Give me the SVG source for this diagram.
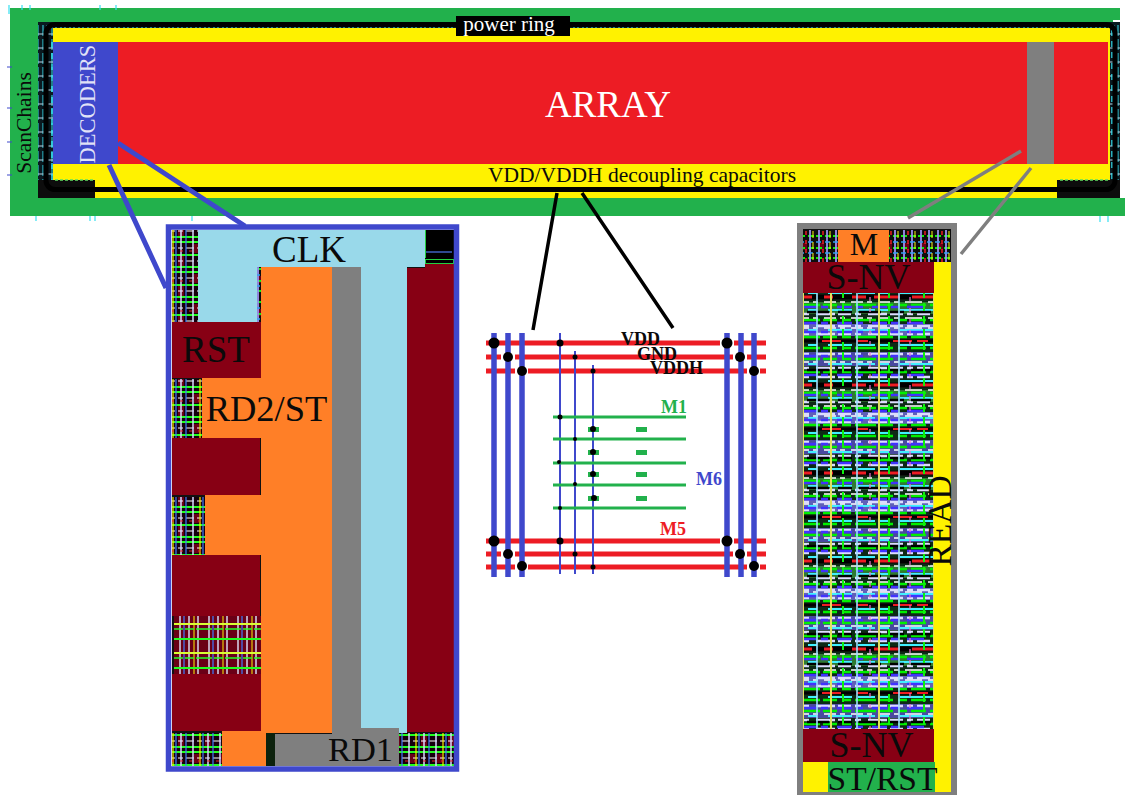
<svg xmlns="http://www.w3.org/2000/svg" width="1125" height="795" viewBox="0 0 1125 795">
<style>
text{font-family:"Liberation Serif","Times New Roman",serif;fill:#0a0a0a}
.w{fill:#fff}
.dr{fill:#870014}.or{fill:#ff7f27}.lb{fill:#99d9ea}.gy{fill:#7f7f7f}.ye{fill:#fff200}.gr{fill:#22b14c}.rd{fill:#ed1c24}
.red{stroke:#ed1c24;stroke-width:5;fill:none}
.bt{stroke:#3f48cc;stroke-width:5.500;fill:none}
.bn{stroke:#3f48cc;stroke-width:2;fill:none}
.gl{stroke:#22b14c;stroke-width:3;fill:none}
.lab{font-weight:bold;font-size:18px}
</style>
<defs>
<filter id="soft" x="0" y="0" width="1" height="1"><feGaussianBlur stdDeviation="0.6"/></filter>
<filter id="txt" x="-5%" y="-5%" width="110%" height="110%"><feGaussianBlur stdDeviation="0.35"/></filter>
<pattern id="cell" width="27" height="30" patternUnits="userSpaceOnUse">
<rect width="27" height="30" fill="#140008"/>
<rect x="5" y="4" width="5" height="9" fill="#6b0018"/><rect x="16" y="16" width="6" height="10" fill="#6b0018"/>
<path d="M0 2H27M0 15H27M0 27H27" stroke="#22ff22" stroke-width="2"/>
<path d="M0 8H27M0 21H27" stroke="#ffffff" stroke-width="1" stroke-dasharray="5 3"/>
<path d="M4 0V30M19 0V30" stroke="#d8d8ff" stroke-width="1.500"/>
<path d="M11 0V30" stroke="#fff200" stroke-width="1.200"/>
<path d="M14 0V30M24 0V30" stroke="#3f78ff" stroke-width="1.200"/>
<path d="M0 11H27" stroke="#ed1c24" stroke-width="1" stroke-dasharray="3 6"/>
</pattern>
<pattern id="cellDr" width="29" height="29" patternUnits="userSpaceOnUse">
<rect width="29" height="29" fill="#6b0018"/>
<path d="M6 0V29M15 0V29M24 0V29" stroke="#d8d8f0" stroke-width="1.500"/>
<path d="M10 0V29" stroke="#3f78ff" stroke-width="1.200"/>
<path d="M20 0V29" stroke="#fff200" stroke-width="1"/>
<path d="M0 1H29" stroke="#22ff22" stroke-width="2"/>
<path d="M0 15H29" stroke="#d8ff30" stroke-width="2"/>
<path d="M0 20H29" stroke="#22ff22" stroke-width="1.500" stroke-dasharray="9 2"/>
</pattern>
<pattern id="dense" width="131" height="88" patternUnits="userSpaceOnUse">
<rect width="131" height="88" fill="#0c2a14"/>
<rect y="0" width="131" height="14" fill="#4a4aa0"/>
<rect y="38" width="131" height="12" fill="#2f7a30"/>
<rect y="60" width="131" height="12" fill="#6060b8"/>
<path d="M0 2H131M0 16H131M0 25H131M0 50H131M0 62H131M0 70H131" stroke="#dcdcff" stroke-width="2.600" stroke-dasharray="13 4 6 7 19 3"/>
<path d="M0 7H131M0 20H131M0 41H131M0 56H131M0 73H131M0 84H131" stroke="#00f000" stroke-width="2.600" stroke-dasharray="9 4 21 3 14 5"/>
<path d="M0 12H131M0 29H131M0 46H131M0 66H131M0 81H131" stroke="#40f0ff" stroke-width="2.200" stroke-dasharray="17 5 9 11 24 6"/>
<path d="M0 4H131M0 23H131M0 43H131M0 59H131M0 68H131" stroke="#4030ff" stroke-width="2.600" stroke-dasharray="7 9 15 4"/>
<path d="M0 33H131" stroke="#050505" stroke-width="5"/>
<path d="M0 33H131" stroke="#ed1c24" stroke-width="3" stroke-dasharray="26 12 9 19 14 8"/>
<path d="M0 77H131" stroke="#050505" stroke-width="3.500"/>
<path d="M0 77H131" stroke="#ed1c24" stroke-width="2" stroke-dasharray="11 25 19 16"/>
<path d="M0 10H131M0 38H131M0 54H131M0 64H131" stroke="#ffffff" stroke-width="1.600" stroke-dasharray="5 6 12 4"/>
<path d="M0 18H131M0 48H131" stroke="#050505" stroke-width="2.400" stroke-dasharray="14 7 22 9"/>
<path d="M17 0V88M45 0V88M93 0V88" stroke="#e0e060" stroke-width="2"/>
<path d="M31 0V88M71 0V88M113 0V88" stroke="#9fe0ff" stroke-width="1.600"/>
<path d="M7 0V88M57 0V88M103 0V88" stroke="#10f010" stroke-width="2" stroke-dasharray="8 5"/>
<path d="M84 0V88M124 0V88" stroke="#f070d0" stroke-width="1.200" stroke-dasharray="4 7"/>
</pattern>
<pattern id="topTex" width="17" height="33" patternUnits="userSpaceOnUse">
<rect width="17" height="33" fill="#0c1010"/>
<rect x="2" y="12" width="6" height="7" fill="#6b0018"/>
<path d="M0 5H17M0 17H17M0 27H17" stroke="#10f010" stroke-width="1.800" stroke-dasharray="6 3"/>
<path d="M3 0V33M11 0V33" stroke="#9a90f0" stroke-width="1.800"/>
<path d="M7 0V33" stroke="#ed1c24" stroke-width="1.500" stroke-dasharray="4 5"/>
<path d="M0 11H17M0 22H17" stroke="#36a0f0" stroke-width="1.500" stroke-dasharray="5 4"/>
<path d="M14 0V33" stroke="#fff200" stroke-width="1" stroke-dasharray="7 4"/>
</pattern>
<pattern id="edge" width="9" height="14" patternUnits="userSpaceOnUse">
<rect width="9" height="14" fill="#0a1a20"/>
<path d="M2 0V14M7 0V14" stroke="#36e0f0" stroke-width="1" stroke-dasharray="8 3"/>
<path d="M0 6H9" stroke="#b8d8e8" stroke-width="1"/>
</pattern>
</defs>

<g id="chip">
<rect class="gr" x="10" y="8" width="1110" height="208"/>
<rect class="gr" x="1100" y="197" width="25" height="19"/>
<rect x="1113" y="20" width="12" height="178" fill="#fff"/>
<rect x="38" y="22" width="1082" height="176" fill="url(#edge)"/>
<rect class="ye" x="53" y="28" width="1057" height="170"/>
<rect x="38" y="180" width="57" height="18" fill="#111" filter="url(#soft)"/>
<rect x="1057" y="180" width="63" height="18" fill="#111" filter="url(#soft)"/>
<path d="M52 180V42" stroke="#36e0f0" stroke-width="1.500" stroke-dasharray="6 5"/>
<path d="M1112 30V180" stroke="#36e0f0" stroke-width="1.500" stroke-dasharray="6 5"/>
<path d="M55 180H95M1060 180H1110" stroke="#5fe060" stroke-width="1.500" stroke-dasharray="3 2"/>
<rect x="46" y="24.500" width="1069" height="165" rx="9" fill="none" stroke="#000" stroke-width="5"/>
<rect class="rd" x="53" y="42" width="1055" height="122"/>
<rect x="53" y="42" width="65" height="122" fill="#3f48cc"/>
<rect class="gy" x="1027" y="42" width="27" height="122"/>
<path d="M36 216V221M90 216V221M95 216V221M192 216V221" stroke="#36e0f0" stroke-width="1.200"/>
<path d="M1100 216V222M1108 216V222" stroke="#36e0f0" stroke-width="1.200"/>
<path d="M9 5V14M22 5V10M30 5V10M100 5V10M116 5V10" stroke="#36e0f0" stroke-width="1.200"/>
<path d="M7 67H12M7 108H12M7 142H12M7 175H12" stroke="#3f48cc" stroke-width="1.200"/>
<rect x="456" y="16" width="114" height="20" fill="#000"/>
<text class="w" x="509" y="31" font-size="21" text-anchor="middle">power ring</text>
<text class="w" x="608" y="117" font-size="37" text-anchor="middle">ARRAY</text>
<text x="642" y="182" font-size="21.500" text-anchor="middle">VDD/VDDH decoupling capacitors</text>
<text class="w" x="0" y="0" font-size="22.500" text-anchor="middle" transform="translate(95 104) rotate(-90)" fill-opacity=".85">DECODERS</text>
<text x="0" y="0" font-size="21.500" text-anchor="middle" transform="translate(31 123) rotate(-90)">ScanChains</text>
</g>

<g id="connectors" fill="none" stroke-width="5">
<path d="M118 143L245 226M109 165L166 288" stroke="#3f48cc"/>
<path d="M1021 151L908 218M1031 168L961 254" stroke="#7f7f7f" stroke-width="3.500"/>
<path d="M557 193L533 330M582 193L673 328" stroke="#000" stroke-width="3.500"/>
</g>

<g id="decoder-detail">
<rect x="172" y="230" width="282" height="536" fill="#111"/>
<g filter="url(#soft)">
<rect x="172" y="230" width="26" height="92" fill="url(#cell)"/>
<rect x="172" y="379" width="30" height="59" fill="url(#cell)"/>
<rect x="172" y="497" width="33" height="58" fill="url(#cell)"/>
<rect x="174" y="616" width="87" height="58" fill="url(#cellDr)"/>
<rect x="172" y="733" width="50" height="33" fill="url(#cell)"/>
<rect x="399" y="733" width="55" height="33" fill="url(#cell)"/>
<rect x="257" y="267" width="4" height="55" fill="url(#topTex)"/>
<rect x="266" y="733" width="9" height="33" fill="#0a200c"/>
</g>
<rect x="425" y="230" width="29" height="34" fill="#000"/>
<path d="M426 252H452" stroke="#3f60c0" stroke-width="1.500"/>
<rect x="425.500" y="259.500" width="28" height="4" fill="none" stroke="#22d040"/>
<path d="M425.500 230V258" stroke="#22d040"/>
<rect class="lb" x="198" y="230" width="227" height="37"/>
<rect class="lb" x="198" y="230" width="59" height="92"/>
<rect class="or" x="261" y="267" width="71" height="466"/>
<rect class="or" x="202" y="378" width="60" height="60"/>
<rect class="or" x="205" y="495" width="56" height="60"/>
<rect class="or" x="222" y="731" width="44" height="35"/>
<rect class="lb" x="361" y="230" width="46" height="503"/>
<rect class="gy" x="332" y="267" width="29" height="499"/>
<rect class="gy" x="275" y="734" width="124" height="32"/>
<rect class="gy" x="361" y="728" width="38" height="8"/>
<rect class="dr" x="407" y="268" width="47" height="464"/>
<rect class="dr" x="425" y="264" width="29" height="6"/>
<rect class="dr" x="172" y="322" width="89" height="56"/>
<rect class="dr" x="172" y="438" width="88" height="57"/>
<rect class="dr" x="172" y="555" width="88" height="61"/>
<rect class="dr" x="172" y="674" width="89" height="57"/>
<rect x="168.500" y="227" width="288" height="542" fill="none" stroke="#3f48cc" stroke-width="5.500"/>
<text x="309" y="262" font-size="37" text-anchor="middle">CLK</text>
<text x="216" y="362" font-size="37" text-anchor="middle">RST</text>
<text x="266.500" y="421" font-size="36.500" text-anchor="middle">RD2/ST</text>
<text x="360.500" y="761" font-size="34.500" text-anchor="middle">RD1</text>
</g>

<g id="power-grid">
<path class="red" d="M486 343H720M734 343H766M486 357H501M515 357H733M747 357H766M486 371H515M528 371H747M760 371H766M486 541H720M734 541H766M486 554H501M515 554H733M747 554H766M486 567H515M528 567H747M760 567H766"/>
<path class="bt" d="M494 333V577M508 333V577M522 333V577M727 333V577M741 333V577M754 333V577"/>
<path class="bn" d="M560 333V574M575 351V574M593 365V574"/>
<path class="gl" d="M553 417H686M553 439H686M553 463H686M553 485H686M553 508H686"/>
<g class="gr">
<rect x="588" y="427" width="11" height="5"/><rect x="636" y="427" width="11" height="5"/>
<rect x="588" y="450" width="11" height="5"/><rect x="636" y="450" width="11" height="5"/>
<rect x="588" y="472" width="11" height="5"/><rect x="636" y="472" width="11" height="5"/>
<rect x="588" y="496" width="11" height="5"/><rect x="636" y="496" width="11" height="5"/>
</g>
<g fill="#000">
<circle cx="494" cy="343" r="5.500"/><circle cx="508" cy="357" r="5"/><circle cx="522" cy="371" r="5"/>
<circle cx="727" cy="343" r="5.500"/><circle cx="740" cy="357" r="5"/><circle cx="754" cy="371" r="5"/>
<circle cx="494" cy="541" r="5.500"/><circle cx="508" cy="554" r="5"/><circle cx="522" cy="566" r="5"/>
<circle cx="727" cy="541" r="5.500"/><circle cx="740" cy="554" r="5"/><circle cx="754" cy="566" r="5"/>
<circle cx="560" cy="343" r="3.500"/><circle cx="575" cy="357" r="2.500"/><circle cx="593" cy="371" r="2.500"/>
<circle cx="560" cy="541" r="3.500"/><circle cx="575" cy="554" r="2.500"/><circle cx="593" cy="567" r="2.500"/>
<circle cx="560" cy="417" r="2.500"/><circle cx="575" cy="439" r="2"/><circle cx="559" cy="462" r="2"/><circle cx="575" cy="484" r="2"/><circle cx="560" cy="508" r="2"/>
<circle cx="593" cy="429" r="3"/><circle cx="593" cy="452" r="3"/><circle cx="593" cy="474" r="3"/><circle cx="594" cy="498" r="3"/>
</g>
<text class="lab" x="621" y="345">VDD</text>
<text class="lab" x="637" y="360">GND</text>
<text class="lab" x="650" y="374">VDDH</text>
<text class="lab" x="661" y="413" style="fill:#22b14c">M1</text>
<text class="lab" x="696" y="485" style="fill:#3f48cc">M6</text>
<text class="lab" x="660" y="535" style="fill:#ed1c24">M5</text>
</g>

<g id="sense-detail">
<rect x="803" y="229" width="148" height="564" fill="#111"/>
<g filter="url(#soft)">
<rect x="803" y="293" width="131" height="436" fill="url(#dense)"/>
<rect x="803" y="230" width="35" height="32" fill="url(#topTex)"/>
<rect x="889" y="230" width="62" height="32" fill="url(#topTex)"/>
</g>
<rect class="or" x="838" y="230" width="51" height="32"/>
<rect class="ye" x="934" y="262" width="17" height="531"/>
<rect class="dr" x="803" y="262" width="131" height="31"/>
<rect class="dr" x="803" y="729" width="131" height="33"/>
<rect class="ye" x="803" y="762" width="25" height="31"/>
<rect class="gr" x="828" y="762" width="107" height="31"/>
<rect x="800" y="226" width="154" height="569" fill="none" stroke="#7f7f7f" stroke-width="6"/>
<text x="864" y="255" font-size="32" text-anchor="middle">M</text>
<text x="868.500" y="289" font-size="36" text-anchor="middle">S-NV</text>
<text x="871.500" y="757" font-size="36" text-anchor="middle">S-NV</text>
<text x="882.500" y="790" font-size="33.500" text-anchor="middle">ST/RST</text>
<text x="0" y="0" font-size="33.500" text-anchor="middle" transform="translate(951 521) rotate(-90)">READ</text>
</g>
</svg>
